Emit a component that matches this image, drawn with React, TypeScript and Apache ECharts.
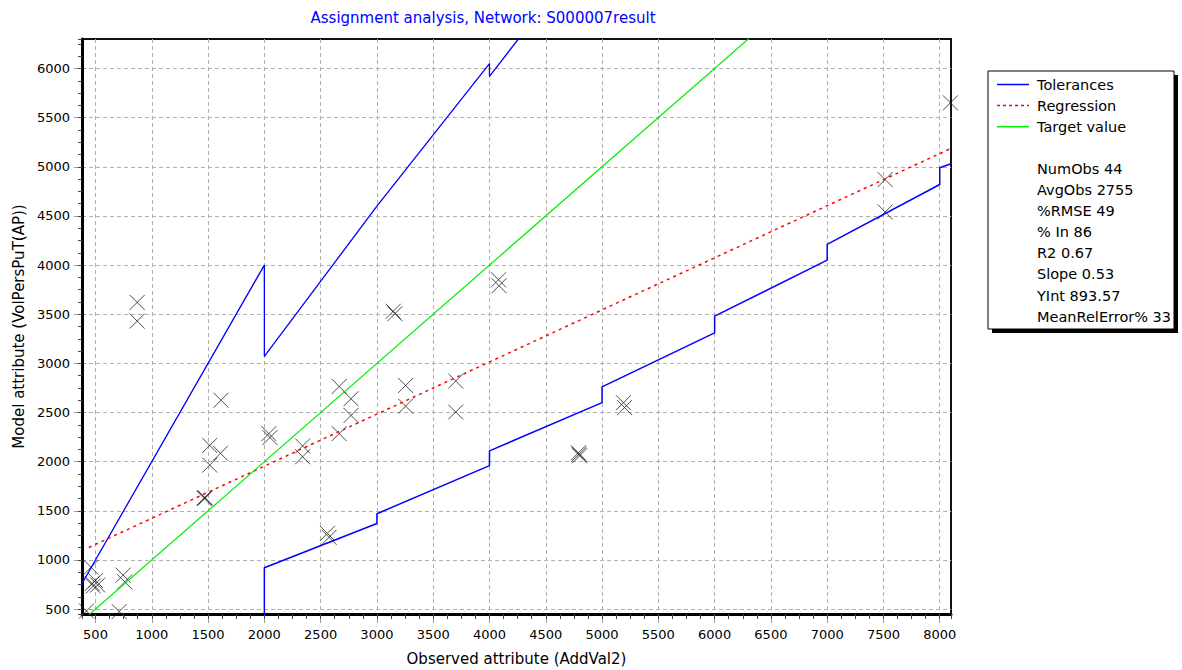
import React, { useEffect, useRef } from "react";
import * as echarts from "echarts";

const titleText = "Assignment analysis, Network: S000007result";
const xName = "Observed attribute (AddVal2)";
const yName = "Model attribute (VolPersPuT(AP))";

const xRange = [380, 8100];
const yRange = [450, 6300];

const obsX = [
  870, 870, 1465, 1470, 1475, 1515, 1610, 1515, 1615, 2040, 2050, 2340, 2340,
  2665, 2770, 2770, 2665, 3145, 3160, 3255, 3255, 3700, 3700, 4080, 4085,
  4790, 4800, 4795, 5190, 5200, 2560, 2575, 7515, 7515, 8095, 745, 760, 710,
  420, 460, 470, 500, 480, 520,
];
const modelY = [
  3620, 3430, 1625, 1635, 1630, 2165, 2085, 1965, 2625, 2285, 2245, 2160, 2050,
  2765, 2640, 2470, 2285, 3530, 3505, 2775, 2565, 2820, 2505, 3850, 3790,
  2090, 2060, 2075, 2600, 2550, 1270, 1230, 4870, 4540, 5650, 845, 777, 475,
  480, 925, 760, 790, 735, 745,
];

const upperTolX = [380, 2000, 2000, 3000, 4000, 4000, 5000];
const upperTolY = [760, 4000, 3070, 4600, 6050, 5920, 7400];
const lowerTolX = [2000, 2000, 3000, 3000, 4000, 4000, 5000, 5000, 6000, 6000, 7000, 7000, 8000, 8000, 8100];
const lowerTolY = [0, 920, 1370, 1470, 1960, 2110, 2600, 2760, 3310, 3480, 4050, 4210, 4820, 4990, 5030];
const regressionX = [440, 8100];
const regressionY = [1127, 5187];
const targetX = [440, 8100];
const targetY = [440, 8100];

const legendItems = ["Tolerances", "Regression", "Target value"];
const statLines = [
  "NumObs 44",
  "AvgObs 2755",
  "%RMSE 49",
  "% In 86",
  "R2 0.67",
  "Slope 0.53",
  "YInt 893.57",
  "MeanRelError% 33",
];

const FONT = "'DejaVu Sans', Arial, sans-serif";
const FS = 15;
const FS_LEGEND = 14.5;
const FS_TICK = 13;

const zip = (xs: number[], ys: number[]) => xs.map((x, i) => [x, ys[i]]);

export default function App() {
  const ref = useRef<HTMLDivElement>(null);
  useEffect(() => {
    document.body.style.margin = "0";
    if (!ref.current) return;
    const chart = echarts.init(ref.current, undefined, { renderer: "svg" });

    const legendStyles = [
      { stroke: "#0000ff", lineDash: undefined as any },
      { stroke: "#ff0000", lineDash: [3, 3] },
      { stroke: "#00ee00", lineDash: undefined as any },
    ];
    const box = { x: 988, y: 71, w: 186, h: 258 };
    const rowY = (i: number) => 84.5 + i * 21.1;
    const graphic: any[] = [
      { type: "rect", shape: { x: box.x + 4, y: box.y + 4, width: box.w, height: box.h }, style: { fill: "#000" } },
      { type: "rect", shape: { x: box.x, y: box.y, width: box.w, height: box.h }, style: { fill: "#fff", stroke: "#000", lineWidth: 1 } },
    ];
    legendItems.forEach((t, i) => {
      graphic.push({
        type: "line",
        shape: { x1: 997, y1: rowY(i), x2: 1029, y2: rowY(i) },
        style: { stroke: legendStyles[i].stroke, lineWidth: 1.5, lineDash: legendStyles[i].lineDash },
      });
      graphic.push({
        type: "text",
        x: 1037,
        y: rowY(i),
        style: { text: t, fill: "#000", fontSize: FS_LEGEND, fontFamily: FONT, verticalAlign: "middle" },
      });
    });
    statLines.forEach((t, i) => {
      graphic.push({
        type: "text",
        x: 1037,
        y: rowY(i + 4),
        style: { text: t, fill: "#000", fontSize: FS_LEGEND, fontFamily: FONT, verticalAlign: "middle" },
      });
    });
    graphic.push({
      type: "text",
      x: 483,
      y: 18,
      style: { text: titleText, fill: "#0000ff", fontSize: FS, fontFamily: FONT, align: "center", verticalAlign: "middle" },
    });

    const gridLine = { show: true, lineStyle: { color: "#b0b0b0", type: [4, 3] as any, width: 1 }, showMinLine: false, showMaxLine: false };
    const fmt = (v: number) => (v % 500 === 0 ? String(v) : "");

    chart.setOption({
      animation: false,
      backgroundColor: "#fff",
      textStyle: { fontFamily: FONT },
      grid: {
        left: 82,
        right: 231,
        top: 39,
        bottom: 56,
        show: true,
        borderColor: "#111",
        borderWidth: 2,
        backgroundColor: "#fff",
        outerBoundsMode: "none",
        containLabel: false,
      },
      graphic,
      xAxis: [
        {
          type: "value",
          min: xRange[0],
          max: xRange[1],
          minInterval: 500,
          maxInterval: 500,
          splitNumber: 15,
          position: "bottom",
          name: xName,
          nameLocation: "middle",
          nameGap: 37,
          nameTextStyle: { color: "#000", fontSize: FS, fontFamily: FONT },
          axisLine: { show: true, onZero: false, lineStyle: { color: "#000", width: 3 } },
          axisTick: { show: true, length: 9, lineStyle: { color: "#999", width: 1 } },
          axisLabel: { show: true, color: "#000", fontSize: FS_TICK, fontFamily: FONT, margin: 14, formatter: fmt, showMinLabel: false, showMaxLabel: false },
          splitLine: gridLine,
        },
        {
          type: "value",
          min: xRange[0],
          max: xRange[1],
          minInterval: 125,
          maxInterval: 125,
          splitNumber: 60,
          position: "bottom",
          axisLine: { show: false },
          axisTick: { show: true, length: 5, lineStyle: { color: "#444", width: 1 } },
          axisLabel: { show: false },
          splitLine: { show: false },
        },
      ],
      yAxis: [
        {
          type: "value",
          min: yRange[0],
          max: yRange[1],
          minInterval: 500,
          maxInterval: 500,
          splitNumber: 12,
          position: "left",
          name: yName,
          nameLocation: "middle",
          nameGap: 55,
          nameTextStyle: { color: "#000", fontSize: FS, fontFamily: FONT },
          axisLine: { show: true, onZero: false, lineStyle: { color: "#000", width: 3 } },
          axisTick: { show: true, length: 8, lineStyle: { color: "#999", width: 1 } },
          axisLabel: { show: true, color: "#000", fontSize: FS_TICK, fontFamily: FONT, margin: 12, formatter: fmt, showMinLabel: false, showMaxLabel: false },
          splitLine: gridLine,
        },
        {
          type: "value",
          min: yRange[0],
          max: yRange[1],
          minInterval: 125,
          maxInterval: 125,
          splitNumber: 48,
          position: "left",
          axisLine: { show: false },
          axisTick: { show: true, length: 4, lineStyle: { color: "#444", width: 1 } },
          axisLabel: { show: false },
          splitLine: { show: false },
        },
      ],
      series: [
        {
          name: "Observations",
          type: "scatter",
          data: zip(obsX, modelY),
          symbol: "path://M0,0L16,16M16,0L0,16",
          symbolSize: 15,
          itemStyle: { color: "none", borderColor: "#222", borderWidth: 1 },
          clip: false,
        },
        {
          name: "Tolerances",
          type: "line",
          data: zip(upperTolX, upperTolY),
          symbol: "none",
          clip: true,
          lineStyle: { color: "#0000ff", width: 1.3 },
        },
        {
          name: "Tolerances",
          type: "line",
          data: zip(lowerTolX, lowerTolY),
          symbol: "none",
          clip: true,
          lineStyle: { color: "#0000ff", width: 1.5 },
        },
        {
          name: "Regression",
          type: "line",
          data: zip(regressionX, regressionY),
          symbol: "none",
          clip: true,
          lineStyle: { color: "#ff0000", width: 1.5, type: [3, 4] as any },
        },
        {
          name: "Target value",
          type: "line",
          data: zip(targetX, targetY),
          symbol: "none",
          clip: true,
          lineStyle: { color: "#00ee00", width: 1.2 },
        },
      ],
    });
    return () => chart.dispose();
  }, []);
  return <div ref={ref} style={{ width: 1182, height: 670 }} />;
}
